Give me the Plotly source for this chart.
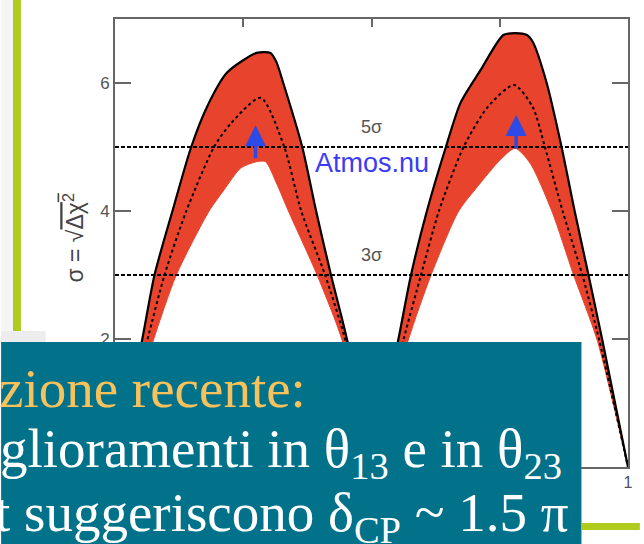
import plotly.graph_objects as go

# ---------------- data ----------------
# delta_CP / pi on x, sigma = sqrt(dchi2) on y
left_upper_x = [-1.0, -0.896, -0.846, -0.776, -0.703, -0.641, -0.564, -0.448, -0.394, -0.371, -0.344, -0.270, -0.216, -0.158, -0.093, 0.0]
left_upper_y = [0.0, 1.95, 3.0, 4.0, 5.0, 5.63, 6.16, 6.47, 6.47, 6.33, 6.0, 5.0, 4.0, 3.0, 1.95, 0.0]
left_lower_x = [-1.0, -0.853, -0.761, -0.633, -0.575, -0.510, -0.448, -0.413, -0.371, -0.324, -0.212, -0.112, 0.0]
left_lower_y = [0.0, 1.95, 3.0, 4.0, 4.33, 4.67, 4.77, 4.77, 4.44, 4.0, 3.0, 1.95, 0.0]
left_mid_x = [-1.0, -0.876, -0.807, -0.722, -0.614, -0.548, -0.432, -0.340, -0.274, -0.181, -0.100, 0.0]
left_mid_y = [0.0, 1.95, 3.0, 4.0, 5.0, 5.37, 5.77, 5.0, 4.0, 3.0, 1.95, 0.0]

right_upper_x = [0.0, 0.104, 0.154, 0.216, 0.290, 0.347, 0.425, 0.514, 0.560, 0.606, 0.629, 0.683, 0.741, 0.792, 0.846, 0.900, 1.0]
right_upper_y = [0.0, 1.98, 3.0, 4.0, 5.0, 5.69, 6.2, 6.75, 6.78, 6.75, 6.64, 6.0, 5.0, 4.0, 3.0, 1.98, 0.0]
right_lower_x = [0.0, 0.143, 0.232, 0.340, 0.413, 0.502, 0.560, 0.618, 0.703, 0.788, 0.880, 1.0]
right_lower_y = [0.0, 1.98, 3.0, 4.0, 4.38, 4.8, 4.98, 4.75, 4.0, 3.0, 1.98, 0.0]
right_mid_x = [0.0, 0.124, 0.193, 0.263, 0.359, 0.452, 0.556, 0.629, 0.676, 0.745, 0.822, 0.888, 1.0]
right_mid_y = [0.0, 1.98, 3.0, 4.0, 5.0, 5.62, 5.97, 5.62, 5.0, 4.0, 3.0, 1.98, 0.0]

sigma_levels = [5, 3]
sigma_labels = ["5σ", "3σ"]
arrow_x = [-0.452, 0.564]
arrow_tail_y = [4.8, 4.95]
arrow_head_y = [5.34, 5.5]

y_ticks = [2, 4, 6]
x_ticks = [-1, -0.5, 0, 0.5, 1]
x_ticktext = ["-1", "-0.5", "0", "0.5", "1"]

text_line1 = "zione recente:"
text_line2 = "glioramenti in θ<sub>13</sub> e in θ<sub>23</sub>"
text_line3 = "t suggeriscono δ<sub>CP</sub> ~ 1.5 π"

# ---------------- figure ----------------
W, H = 644, 544
L, R, T, B = 115, 11, 19, 77
PW, PH = W - L - R, H - T - B


def fx(px):
    return (px - L) / PW


def fy(py):
    return (H - B - py) / PH


RED = "#E8432D"
fig = go.Figure()

for ux, uy, lx, ly in [(left_upper_x, left_upper_y, left_lower_x, left_lower_y),
                       (right_upper_x, right_upper_y, right_lower_x, right_lower_y)]:
    fig.add_trace(go.Scatter(x=ux + lx[::-1], y=uy + ly[::-1], fill="toself",
                             fillcolor=RED, mode="lines",
                             line=dict(color=RED, width=1, shape="spline", smoothing=0.7),
                             hoverinfo="skip"))
for ux, uy in [(left_upper_x, left_upper_y), (right_upper_x, right_upper_y)]:
    fig.add_trace(go.Scatter(x=ux, y=uy, mode="lines",
                             line=dict(color="black", width=2.2, shape="spline", smoothing=0.7)))
for mx, my in [(left_mid_x, left_mid_y), (right_mid_x, right_mid_y)]:
    fig.add_trace(go.Scatter(x=mx, y=my, mode="lines",
                             line=dict(color="black", width=2, dash="dot", shape="spline", smoothing=0.7)))
for lev in sigma_levels:
    fig.add_trace(go.Scatter(x=[-1, 1], y=[lev, lev], mode="lines",
                             line=dict(color="black", width=2.2, dash="4px,2px")))

annotations = []
for lev, lab in zip(sigma_levels, sigma_labels):
    annotations.append(dict(x=0, y=lev + 0.32, xref="x", yref="y", text=lab,
                            showarrow=False, font=dict(family="Liberation Sans", size=18, color="#555")))
annotations.append(dict(x=0, y=4.75, xref="x", yref="y", text="Atmos.nu", showarrow=False,
                        font=dict(family="Liberation Sans", size=27, color="#3C3CF2")))
for ax_, ty, hy in zip(arrow_x, arrow_tail_y, arrow_head_y):
    annotations.append(dict(x=ax_, y=hy, ax=ax_, ay=ty, xref="x", yref="y", axref="x", ayref="y",
                            text="", showarrow=True, arrowhead=2, arrowsize=1.2, arrowwidth=3.5,
                            arrowcolor="#2E4AE6"))

# y-axis title
annotations.append(dict(x=fx(56), y=fy(238), xref="paper", yref="paper", textangle=-90,
                        text="σ = √<span style='text-decoration:overline'>Δχ<sup>2</sup></span>",
                        showarrow=False, font=dict(family="Liberation Sans", size=23, color="#444")))
# cut-off title at top
annotations.append(dict(x=fx(558), y=fy(1), xref="paper", yref="paper", xanchor="right", yanchor="bottom",
                        text="CP Violation Sensitivity (NH)", showarrow=False,
                        font=dict(family="Liberation Sans", size=16, color="#666")))

# slide text
for txt, px0, pyc, col in [(text_line1, -4, 388, "#F7C15C"),
                           (text_line2, -3, 452, "white"),
                           (text_line3, -8, 516, "white")]:
    annotations.append(dict(x=fx(px0), y=fy(pyc), xref="paper", yref="paper", xanchor="left",
                            yanchor="middle", text=txt, showarrow=False,
                            font=dict(family="Liberation Serif", size=55, color=col)))

shapes = [
    dict(type="rect", xref="paper", yref="paper", x0=fx(0), x1=fx(12), y0=fy(332), y1=fy(0),
         fillcolor="#F5F5F5", line=dict(width=0), layer="above"),
    dict(type="rect", xref="paper", yref="paper", x0=fx(12), x1=fx(20), y0=fy(332), y1=fy(0),
         fillcolor="#AECB1E", line=dict(width=0), layer="above"),
    dict(type="rect", xref="paper", yref="paper", x0=fx(0), x1=fx(45), y0=fy(343), y1=fy(331),
         fillcolor="#EDEDED", line=dict(width=0), layer="above"),
    dict(type="rect", xref="paper", yref="paper", x0=fx(0), x1=fx(586), y0=fy(545), y1=fy(342),
         fillcolor="#01728A", line=dict(width=0), layer="above"),
    dict(type="rect", xref="paper", yref="paper", x0=fx(586), x1=fx(645), y0=fy(530), y1=fy(523),
         fillcolor="#AECB1E", line=dict(width=0), layer="above"),
]

fig.update_layout(
    width=W, height=H, margin=dict(l=L, r=R, t=T, b=B),
    paper_bgcolor="white", plot_bgcolor="white", showlegend=False,
    annotations=annotations, shapes=shapes,
    xaxis=dict(range=[-1, 1], tickvals=x_ticks, ticktext=x_ticktext, ticks="inside", ticklen=8,
               tickwidth=2, tickcolor="#666", showline=True, linecolor="#666", linewidth=2,
               mirror="ticks", showgrid=False, zeroline=False,
               tickfont=dict(family="Liberation Sans", size=16, color="#4a5060")),
    yaxis=dict(range=[0, 7], tickvals=y_ticks, ticks="inside", ticklen=16, tickwidth=2,
               tickcolor="#666", showline=True, linecolor="#666", linewidth=2, mirror="ticks",
               showgrid=False, zeroline=False,
               tickfont=dict(family="Liberation Sans", size=17, color="#555")),
)

fig.write_html("out.html")
